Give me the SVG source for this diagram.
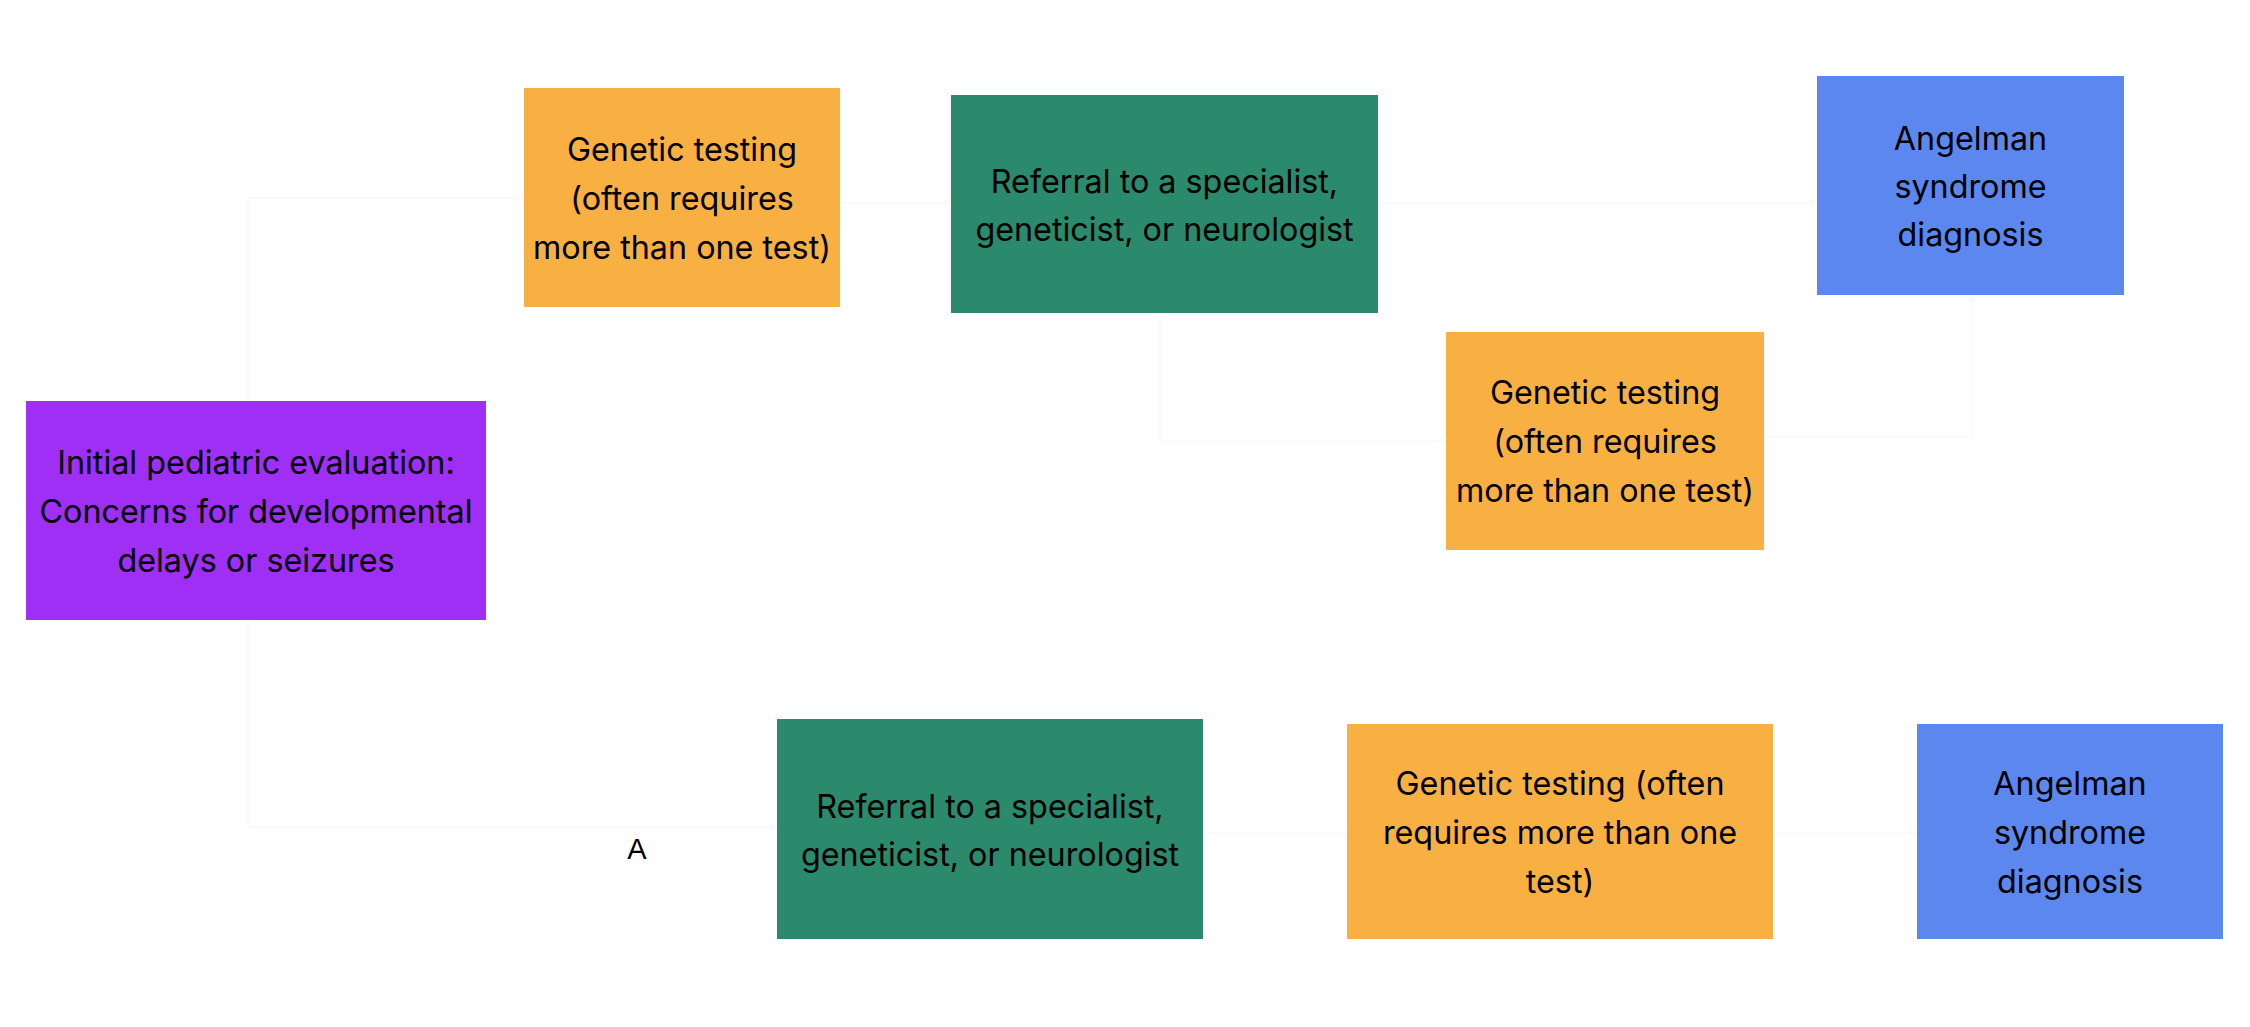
<svg xmlns="http://www.w3.org/2000/svg" width="2250" height="1027" viewBox="0 0 2250 1027">
  <style>
    .lbl { font-family: Inter, "Liberation Sans", sans-serif; font-size: 32.3px; fill: #000000; text-anchor: middle; }
    .edge { fill: none; stroke: #fafafa; stroke-width: 2; marker-end: url(#arrow); }
    .edgelbl { font-family: "Liberation Sans", Arial, sans-serif; font-size: 29px; fill: #000000; text-anchor: middle; }
    .purple { fill: #a02ff5; }
    .orange { fill: #f9b042; }
    .green { fill: #2a8a6b; }
    .blue { fill: #5b87ee; }
  </style>
  <defs>
    <marker id="arrow" viewBox="0 0 10 10" refX="9" refY="5" markerWidth="8" markerHeight="8" orient="auto" markerUnits="userSpaceOnUse">
      <path d="M0,0 L10,5 L0,10 z" fill="#fafafa"/>
    </marker>
  </defs>
  <rect x="0" y="0" width="2250" height="1027" fill="#ffffff"/>

  <g id="connectors">
    <path class="edge" d="M248,401 L248,198 L524,198"/>
    <path class="edge" d="M840,203 L951,203"/>
    <path class="edge" d="M1378,203 L1817,203"/>
    <path class="edge" d="M1160,313 L1160,441 L1446,441"/>
    <path class="edge" d="M1764,437 L1972,437 L1972,295"/>
    <path class="edge" d="M248,620 L248,827 L777,827"/>
    <path class="edge" d="M1203,833 L1347,833"/>
    <path class="edge" d="M1773,833 L1917,833"/>
    <text class="edgelbl" x="637" y="859">A</text>
  </g>

  <g id="node-initial">
    <rect class="purple" x="26" y="401" width="460" height="219"/>
    <text class="lbl" x="256" y="474">Initial pediatric evaluation:</text>
    <text class="lbl" x="256" y="523">Concerns for developmental</text>
    <text class="lbl" x="256" y="572">delays or seizures</text>
  </g>

  <g id="node-genetic1">
    <rect class="orange" x="524" y="88" width="316" height="219"/>
    <text class="lbl" x="682" y="161">Genetic testing</text>
    <text class="lbl" x="682" y="210">(often requires</text>
    <text class="lbl" x="682" y="259">more than one test)</text>
  </g>

  <g id="node-referral1">
    <rect class="green" x="951" y="95" width="427" height="218"/>
    <text class="lbl" x="1164.5" y="193">Referral to a specialist,</text>
    <text class="lbl" x="1164.5" y="241">geneticist, or neurologist</text>
  </g>

  <g id="node-diagnosis1">
    <rect class="blue" x="1817" y="76" width="307" height="219"/>
    <text class="lbl" x="1970.5" y="150">Angelman</text>
    <text class="lbl" x="1970.5" y="198">syndrome</text>
    <text class="lbl" x="1970.5" y="246">diagnosis</text>
  </g>

  <g id="node-genetic2">
    <rect class="orange" x="1446" y="332" width="318" height="218"/>
    <text class="lbl" x="1605" y="404">Genetic testing</text>
    <text class="lbl" x="1605" y="453">(often requires</text>
    <text class="lbl" x="1605" y="502">more than one test)</text>
  </g>

  <g id="node-referral2">
    <rect class="green" x="777" y="719" width="426" height="220"/>
    <text class="lbl" x="990" y="818">Referral to a specialist,</text>
    <text class="lbl" x="990" y="866">geneticist, or neurologist</text>
  </g>

  <g id="node-genetic3">
    <rect class="orange" x="1347" y="724" width="426" height="215"/>
    <text class="lbl" x="1560" y="795">Genetic testing (often</text>
    <text class="lbl" x="1560" y="844">requires more than one</text>
    <text class="lbl" x="1560" y="893">test)</text>
  </g>

  <g id="node-diagnosis2">
    <rect class="blue" x="1917" y="724" width="306" height="215"/>
    <text class="lbl" x="2070" y="795">Angelman</text>
    <text class="lbl" x="2070" y="844">syndrome</text>
    <text class="lbl" x="2070" y="893">diagnosis</text>
  </g>
</svg>
